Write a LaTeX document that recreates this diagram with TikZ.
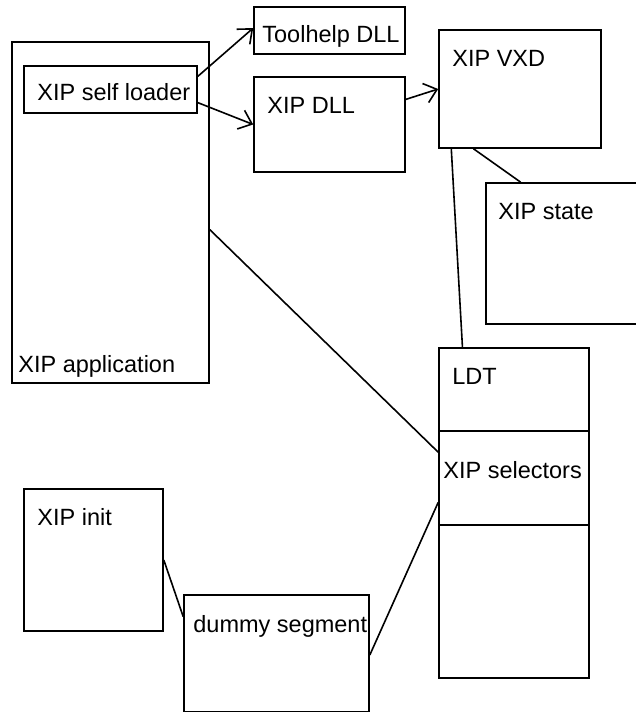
\documentclass[tikz,border=0pt]{standalone}
\usepackage{fontspec}
\setmainfont{Liberation Sans}
\usetikzlibrary{fit,calc,arrows.meta}
\begin{document}
\begin{tikzpicture}[x=0.5pt,y=-0.5pt,
  box/.style={draw, line width=0.8pt, inner sep=0pt, fit={#1}},
  lbl/.style={anchor=base west, inner sep=0pt, font=\fontsize{11.75}{14}\selectfont},
  link/.style={line width=0.8pt},
  call/.style={link, -{Straight Barb[length=6pt,width=10pt,line width=0.8pt]}}]
\useasboundingbox (0,0) rectangle (636,713);

% modules
\node[box={(12,42) (209,383)}] (app) {};
\node[box={(24,66) (197,113)}] (loader) {};
\node[box={(254,7) (405,54)}] (tool) {};
\node[box={(254,77) (405,172)}] (dll) {};
\node[box={(439,30) (601,148)}] (vxd) {};
\node[box={(486,183) (642,324)}] (state) {};
\node[box={(439,348) (589,678)}] (ldt) {};
\node[box={(439,431) (589,525)}] (sel) {};
\node[box={(24,489) (163,631)}] (init) {};
\node[box={(184,595) (369,711.5)}] (dummy) {};

% captions
\node[lbl] (appT) at (18,372) {XIP application};
\node[lbl] (loaderT) at (37,100) {XIP self loader};
\node[lbl] (toolT) at (262,42) {Toolhelp DLL};
\node[lbl] (dllT) at (267,113) {XIP DLL};
\node[lbl] (vxdT) at (452,66) {XIP VXD};
\node[lbl] (stateT) at (498,219) {XIP state};
\node[lbl] (ldtT) at (452,384) {LDT};
\node[lbl] (selT) at (443,478) {XIP selectors};
\node[lbl] (initT) at (37,525) {XIP init};
\node[lbl] (dummyT) at (193,632) {dummy segment};

% calls
\draw[call] ($(loader.north east)!0.23!(loader.south east)$) -- ($(tool.north west)!0.45!(tool.south west)$);
\draw[call] ($(loader.north east)!0.77!(loader.south east)$) -- (dll.west);
\draw[call] ($(dll.north east)!0.24!(dll.south east)$) -- (vxd.west);

% associations
\draw[link] ($(vxd.south west)!0.08!(vxd.south east)$) -- ($(ldt.north west)!0.16!(ldt.north east)$);
\draw[link] ($(vxd.south west)!0.216!(vxd.south east)$) -- ($(state.north west)!0.225!(state.north east)$);
\draw[link] ($(app.north east)!0.55!(app.south east)$) -- ($(sel.north west)!0.23!(sel.south west)$);
\draw[link] ($(dummy.north east)!0.515!(dummy.south east)$) -- ($(sel.north west)!0.755!(sel.south west)$);
\draw[link] (init.east) -- ($(dummy.north west)!0.19!(dummy.south west)$);
\end{tikzpicture}
\end{document}
